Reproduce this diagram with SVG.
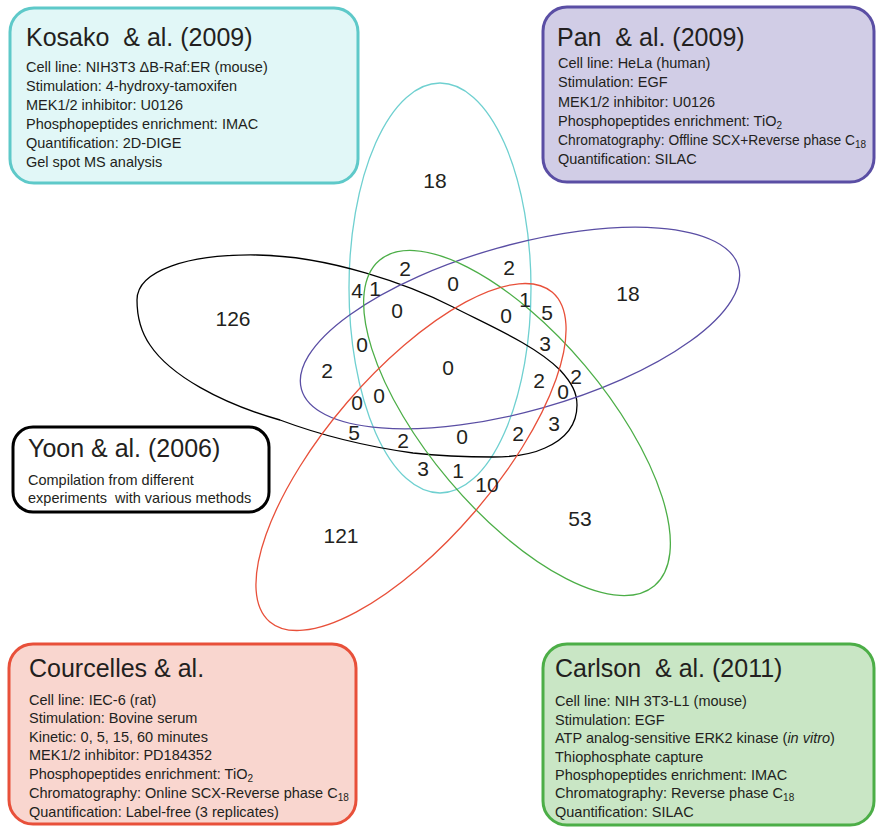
<svg xmlns="http://www.w3.org/2000/svg" width="877" height="829" viewBox="0 0 877 829">
<style>
text{font-family:"Liberation Sans",Arial,sans-serif;fill:#231f20;white-space:pre}
.t{font-size:25px}
.b{font-size:14.5px}
.n{font-size:21px;text-anchor:middle}
.sub{font-size:10px}
.box{stroke-width:3}
.set{fill:none;stroke-width:1.3}
</style>
<rect width="877" height="829" fill="#fff"/>
<g id="kosako">
<rect class="box" x="10" y="8" width="348" height="175" rx="24" fill="#e1f7f7" stroke="#5ec9c9"/>
<text class="t" x="26" y="46" xml:space="preserve">Kosako  &amp; al. (2009)</text>
<text class="b" x="26" y="72">Cell line: NIH3T3 ΔB-Raf:ER (mouse)</text>
<text class="b" x="26" y="91">Stimulation: 4-hydroxy-tamoxifen</text>
<text class="b" x="26" y="110">MEK1/2 inhibitor: U0126</text>
<text class="b" x="26" y="129">Phosphopeptides enrichment: IMAC</text>
<text class="b" x="26" y="148">Quantification: 2D-DIGE</text>
<text class="b" x="26" y="167">Gel spot MS analysis</text>
</g>
<g id="pan">
<rect class="box" x="543" y="7" width="331" height="175" rx="24" fill="#d1cde6" stroke="#5a4ea4"/>
<text class="t" x="557" y="46" xml:space="preserve">Pan  &amp; al. (2009)</text>
<text class="b" x="558" y="68">Cell line: HeLa (human)</text>
<text class="b" x="558" y="87">Stimulation: EGF</text>
<text class="b" x="558" y="107">MEK1/2 inhibitor: U0126</text>
<text class="b" x="558" y="126">Phosphopeptides enrichment: TiO<tspan class="sub" dy="3">2</tspan></text>
<text class="b" x="558" y="145" style="font-size:13.8px">Chromatography: Offline SCX+Reverse phase C<tspan class="sub" dy="3">18</tspan></text>
<text class="b" x="558" y="164">Quantification: SILAC</text>
</g>
<g id="yoon">
<rect class="box" x="13" y="427" width="256" height="85" rx="20" fill="#fff" stroke="#000"/>
<text class="t" x="28" y="457">Yoon &amp; al. (2006)</text>
<text class="b" x="28" y="485">Compilation from different</text>
<text class="b" x="28" y="503" xml:space="preserve">experiments  with various methods</text>
</g>
<g id="courcelles">
<rect class="box" x="9" y="644" width="347" height="180" rx="24" fill="#f9d6cf" stroke="#e8503a"/>
<text class="t" x="29" y="677">Courcelles &amp; al.</text>
<text class="b" x="29" y="705">Cell line: IEC-6 (rat)</text>
<text class="b" x="29" y="723">Stimulation: Bovine serum</text>
<text class="b" x="29" y="742">Kinetic: 0, 5, 15, 60 minutes</text>
<text class="b" x="29" y="760">MEK1/2 inhibitor: PD184352</text>
<text class="b" x="29" y="779">Phosphopeptides enrichment: TiO<tspan class="sub" dy="3">2</tspan></text>
<text class="b" x="29" y="798">Chromatography: Online SCX-Reverse phase C<tspan class="sub" dy="3">18</tspan></text>
<text class="b" x="29" y="817">Quantification: Label-free (3 replicates)</text>
</g>
<g id="carlson">
<rect class="box" x="543" y="644" width="331" height="181" rx="24" fill="#c9e6c5" stroke="#4cae47"/>
<text class="t" x="555" y="677" xml:space="preserve">Carlson  &amp; al. (2011)</text>
<text class="b" x="555" y="706">Cell line: NIH 3T3-L1 (mouse)</text>
<text class="b" x="555" y="725">Stimulation: EGF</text>
<text class="b" x="555" y="743">ATP analog-sensitive ERK2 kinase (<tspan font-style="italic">in vitro</tspan>)</text>
<text class="b" x="555" y="762">Thiophosphate capture</text>
<text class="b" x="555" y="780">Phosphopeptides enrichment: IMAC</text>
<text class="b" x="555" y="798">Chromatography: Reverse phase C<tspan class="sub" dy="3">18</tspan></text>
<text class="b" x="555" y="817">Quantification: SILAC</text>
</g>
<g id="sets">
<ellipse id="set-kosako" class="set" cx="440" cy="288" rx="91" ry="205" stroke="#6fd0d0"/>
<path id="set-yoon" class="set" stroke="#000" d="M137,300 C137,270 190,254 257,255 C330,256 410,285 453,307 C490,326 535,345 560,370 C572,383 577,393 577,405 C577,420 570,437 545,448 C530,455 510,457 493,457 C470,457 440,456 413,453 C370,447 320,435 280,420 C220,403 170,375 150,345 C141,332 137,316 137,300 Z"/>
<ellipse id="set-pan" class="set" cx="0" cy="0" rx="227" ry="83" transform="translate(520 328) rotate(-15.7)" stroke="#5a4ea4"/>
<ellipse id="set-carlson" class="set" cx="0" cy="0" rx="213" ry="89" transform="translate(517 423) rotate(49.8)" stroke="#4cae47"/>
<ellipse id="set-courcelles" class="set" cx="0" cy="0" rx="217" ry="84" transform="translate(411 457) rotate(-49.35)" stroke="#e8503a"/>
</g>
<g id="counts">
<text class="n" x="435" y="188">18</text>
<text class="n" x="628" y="301">18</text>
<text class="n" x="233" y="326">126</text>
<text class="n" x="341" y="543">121</text>
<text class="n" x="580" y="526">53</text>
<text class="n" x="487" y="492">10</text>
<text class="n" x="405" y="276">2</text>
<text class="n" x="453" y="291">0</text>
<text class="n" x="509" y="275">2</text>
<text class="n" x="357" y="298">4</text>
<text class="n" x="375" y="296">1</text>
<text class="n" x="397" y="318">0</text>
<text class="n" x="525" y="307">1</text>
<text class="n" x="547" y="320">5</text>
<text class="n" x="506" y="323">0</text>
<text class="n" x="545" y="351">3</text>
<text class="n" x="362" y="352">0</text>
<text class="n" x="327" y="378">2</text>
<text class="n" x="448" y="375">0</text>
<text class="n" x="539" y="388">2</text>
<text class="n" x="563" y="399">0</text>
<text class="n" x="576" y="384">2</text>
<text class="n" x="379" y="403">0</text>
<text class="n" x="357" y="410">0</text>
<text class="n" x="354" y="440">5</text>
<text class="n" x="403" y="448">2</text>
<text class="n" x="462" y="444">0</text>
<text class="n" x="518" y="441">2</text>
<text class="n" x="554" y="431">3</text>
<text class="n" x="423" y="476">3</text>
<text class="n" x="458" y="478">1</text>
</g>
</svg>
